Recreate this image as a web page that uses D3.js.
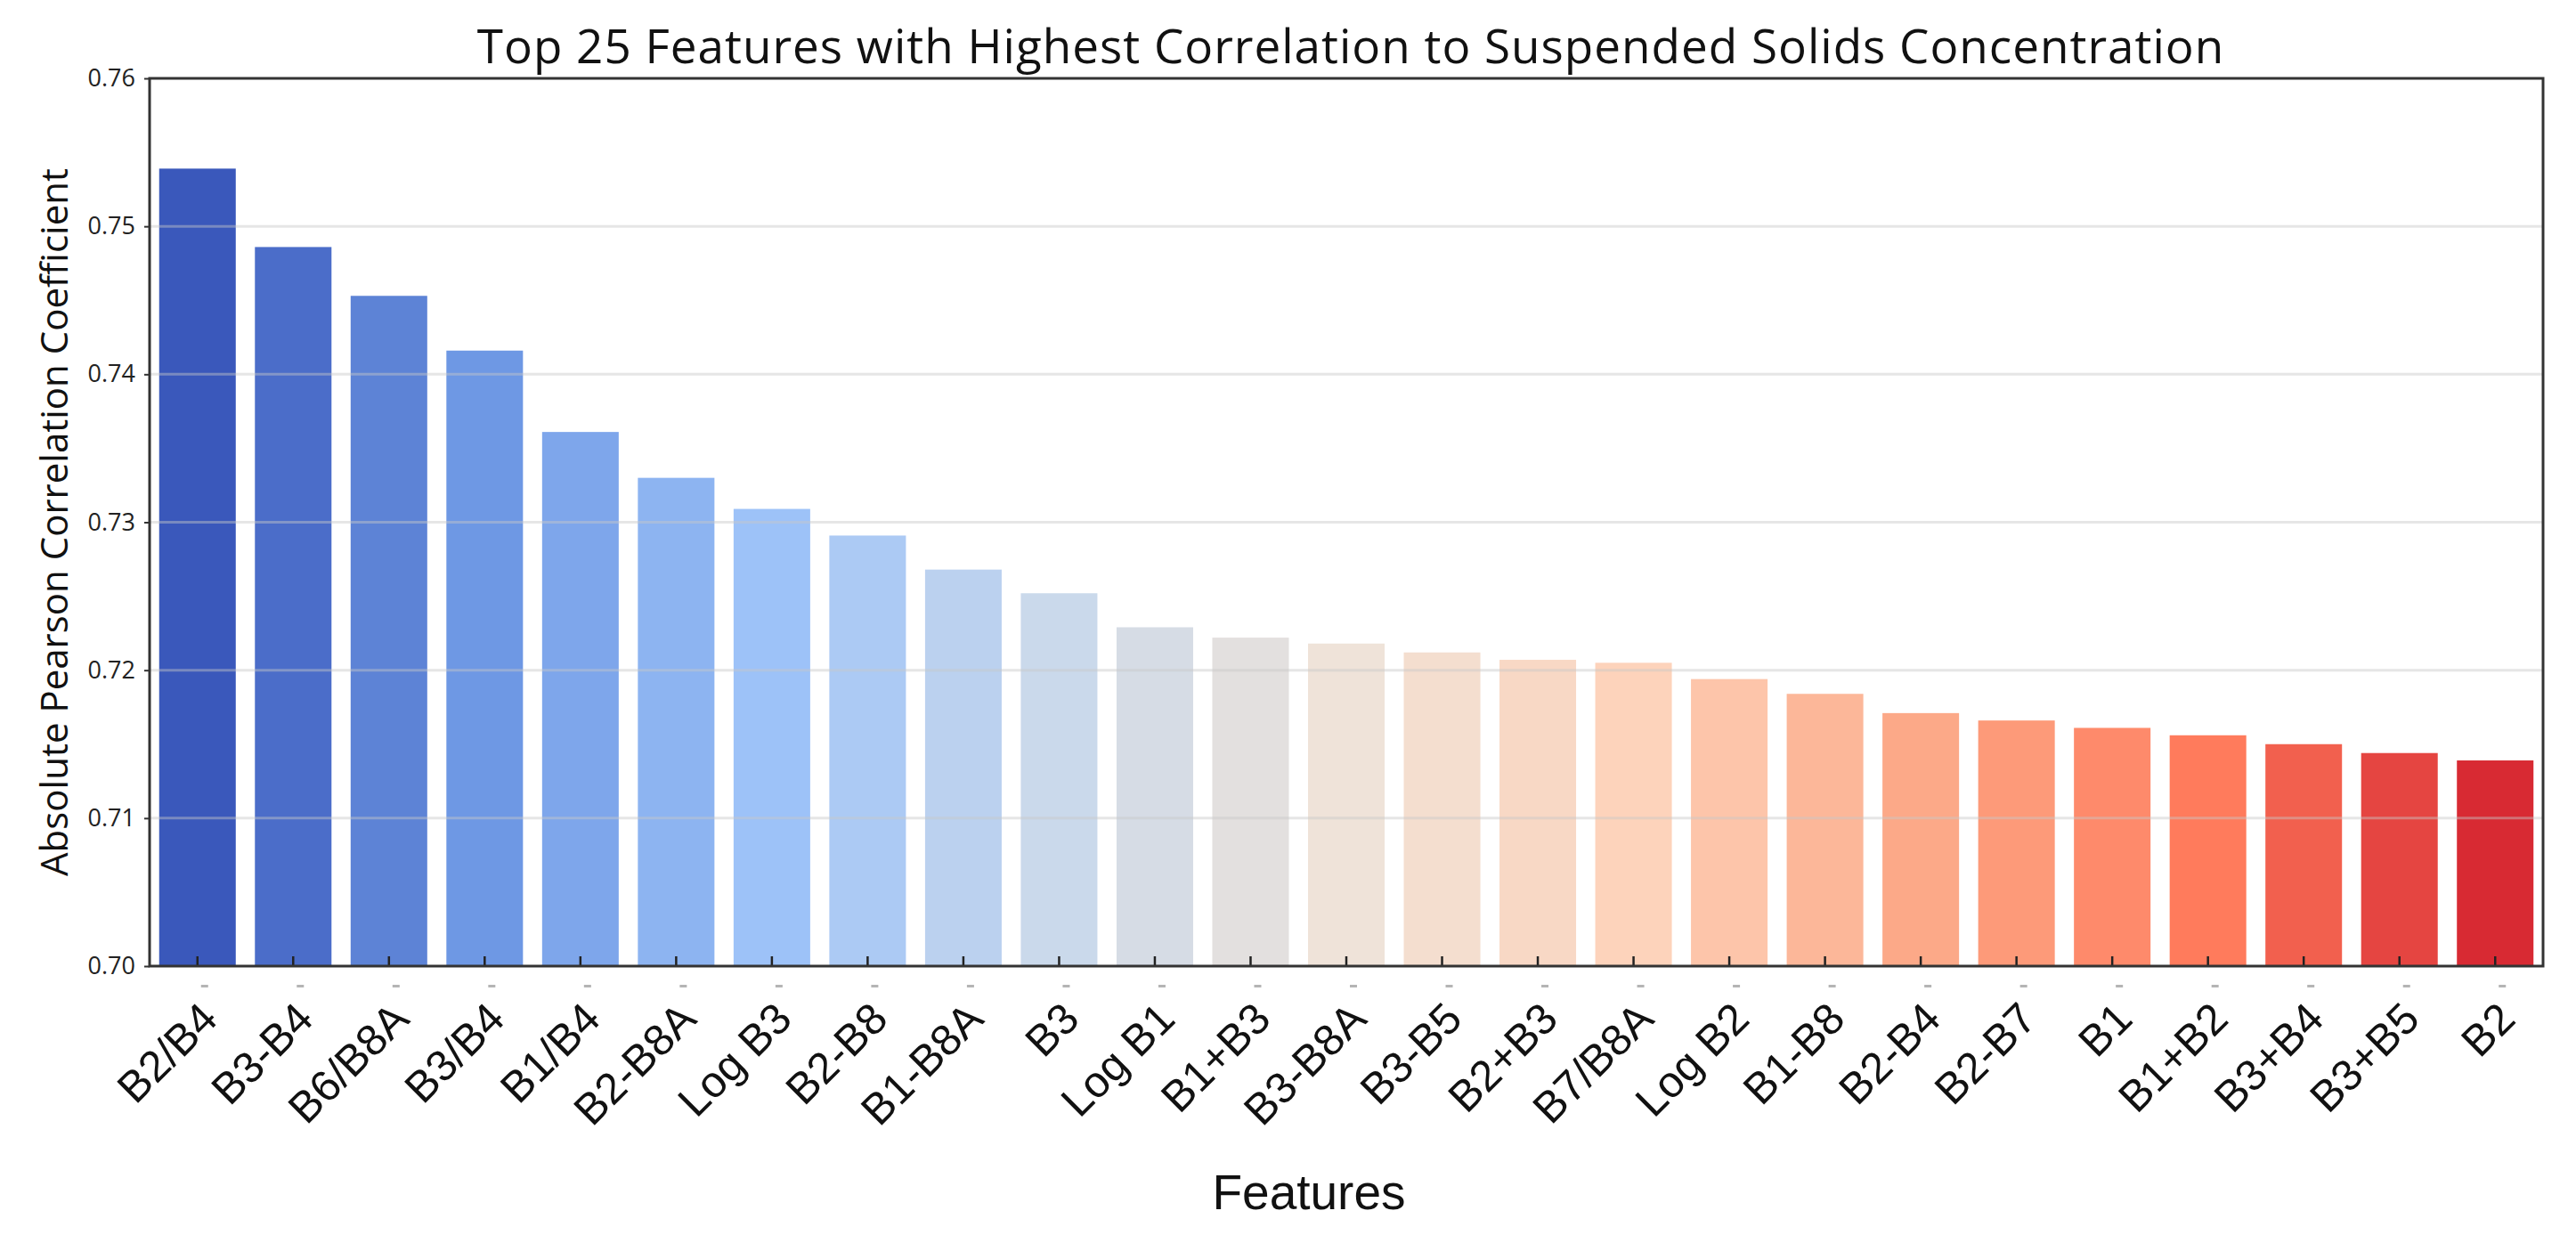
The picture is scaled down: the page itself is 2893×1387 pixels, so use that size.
<!DOCTYPE html>
<html>
<head>
<meta charset="utf-8">
<script src="https://cdn.jsdelivr.net/npm/d3@7"></script>
<style>
  body { margin: 0; background: #fff; }
  svg { display: block; }
</style>
</head>
<body>
<svg id="chart" width="2893" height="1387"></svg>
<script>

// ===================================== DATA =====================================
const features = ["B2/B4", "B3-B4", "B6/B8A", "B3/B4", "B1/B4", "B2-B8A", "Log B3", "B2-B8",
  "B1-B8A", "B3", "Log B1", "B1+B3", "B3-B8A", "B3-B5", "B2+B3", "B7/B8A", "Log B2",
  "B1-B8", "B2-B4", "B2-B7", "B1", "B1+B2", "B3+B4", "B3+B5", "B2"];

const correlation = [0.7539, 0.7486, 0.7453, 0.7416, 0.7361, 0.7330, 0.7309, 0.7291,
  0.7268, 0.7252, 0.7229, 0.7222, 0.7218, 0.7212, 0.7207, 0.7205, 0.7194,
  0.7184, 0.7171, 0.7166, 0.7161, 0.7156, 0.7150, 0.7144, 0.7139];

const yTicks = [0.70, 0.71, 0.72, 0.73, 0.74, 0.75, 0.76];

const titleText = "Top 25 Features with Highest Correlation to Suspended Solids Concentration";
const xLabelText = "Features";
const yLabelText = "Absolute Pearson Correlation Coefficient";

// colour ramp (coolwarm-like, as it reads in the picture)
const rampColors = ["#3a58bb", "#6e98e4", "#9dc2f8", "#cad9eb", "#efe3d9",
  "#fdd3bb", "#fca988", "#ff7b5c", "#d82a33"];

// ================================= LAYOUT =======================================
const svg = d3.select("#chart");
const plotLeft = 168, plotRight = 2856, plotTop = 88, plotBottom = 1085;

const x = d3.scaleBand()
  .domain(features)
  .range([plotLeft, plotRight])
  .paddingInner(0.2)
  .paddingOuter(0.1);

const y = d3.scaleLinear()
  .domain([0.70, 0.76])
  .range([plotBottom, plotTop]);

const ramp = d3.piecewise(d3.interpolateRgb, rampColors);
const color = i => ramp(i / (features.length - 1));
const mid = d => x(d) + x.bandwidth() / 2;

const data = features.map((f, i) => ({ feature: f, value: correlation[i], idx: i }));

// ================================= BARS =========================================
svg.append("g")
  .selectAll("rect")
  .data(data)
  .enter()
  .append("rect")
  .attr("x", d => x(d.feature))
  .attr("y", d => y(d.value))
  .attr("width", x.bandwidth())
  .attr("height", d => y(0.70) - y(d.value))
  .attr("fill", d => color(d.idx));

// grid lines sit on top of the bars, faint
svg.append("g")
  .selectAll("line")
  .data(yTicks.filter(t => t > 0.70 && t < 0.76))
  .enter()
  .append("line")
  .attr("x1", plotLeft)
  .attr("x2", plotRight)
  .attr("y1", d => y(d))
  .attr("y2", d => y(d))
  .attr("stroke", "#c8c8c8")
  .attr("stroke-opacity", 0.45)
  .attr("stroke-width", 3);

// ================================= AXES =========================================
const yAxis = svg.append("g")
  .attr("transform", `translate(${plotLeft},0)`)
  .call(d3.axisLeft(y).tickValues(yTicks).tickFormat(d3.format(".2f")).tickSize(6).tickPadding(10));

yAxis.select(".domain").remove();
yAxis.selectAll(".tick line").attr("stroke", "#333").attr("stroke-width", 2);
yAxis.selectAll(".tick text")
  .attr("fill", "#222")
  .style("font-family", "'Open Sans', sans-serif")
  .style("font-size", "27px");

// small inward ticks at bar centres
const xAxis = svg.append("g")
  .attr("transform", `translate(0,${plotBottom})`)
  .call(d3.axisBottom(x).tickSize(-11).tickFormat(""));
xAxis.select(".domain").remove();
xAxis.selectAll(".tick line").attr("stroke", "#222").attr("stroke-width", 2.5);

// faint grey dashes left under the axis
svg.append("g")
  .selectAll("rect")
  .data(features)
  .enter()
  .append("rect")
  .attr("x", d => mid(d) + 4)
  .attr("y", plotBottom + 21)
  .attr("width", 8)
  .attr("height", 3)
  .attr("fill", "#b5b5b5");

// rotated feature labels
svg.append("g")
  .selectAll("text")
  .data(features)
  .enter()
  .append("text")
  .attr("transform", d => `translate(${mid(d) + 25},${plotBottom + 62}) rotate(-45)`)
  .attr("text-anchor", "end")
  .style("font-family", "'Liberation Sans', Arial, sans-serif")
  .style("font-size", "49px")
  .attr("fill", "#111")
  .text(d => d);

// frame
svg.append("rect")
  .attr("x", plotLeft)
  .attr("y", plotTop)
  .attr("width", plotRight - plotLeft)
  .attr("height", plotBottom - plotTop)
  .attr("fill", "none")
  .attr("stroke", "#333")
  .attr("stroke-width", 3);

// ================================= TEXT =========================================
svg.append("text")
  .attr("x", 1517)
  .attr("y", 71)
  .attr("text-anchor", "middle")
  .style("font-family", "'Open Sans', sans-serif")
  .style("font-size", "53px")
  .style("letter-spacing", "1px")
  .attr("fill", "#111")
  .text(titleText);

svg.append("text")
  .attr("x", 1470)
  .attr("y", 1358)
  .attr("text-anchor", "middle")
  .style("font-family", "'Liberation Sans', Arial, sans-serif")
  .style("font-size", "55px")
  .attr("fill", "#111")
  .text(xLabelText);

svg.append("text")
  .attr("transform", `translate(76,${(plotTop + plotBottom) / 2}) rotate(-90)`)
  .attr("text-anchor", "middle")
  .style("font-family", "'Open Sans', sans-serif")
  .style("font-size", "42px")
  .attr("fill", "#111")
  .text(yLabelText);

</script>
</body>
</html>
